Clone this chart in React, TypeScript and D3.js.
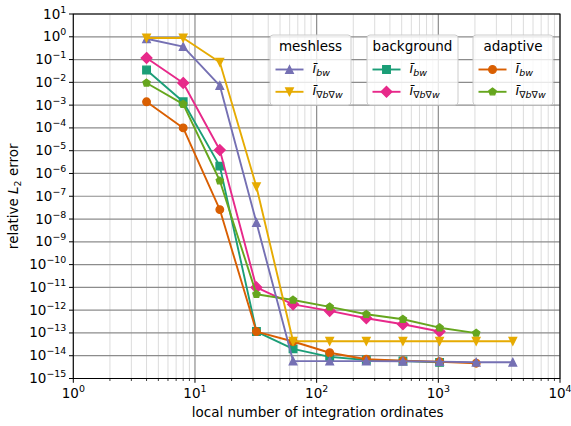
import React from 'react';
import * as d3 from 'd3';

// Number of integration ordinates per node
const ordinates = [4, 8, 16, 32, 64, 128, 256, 512, 1024, 2048, 4096];

// Relative L2 errors per method and integral
const meshlessBw = [0.82, 0.37, 7.2e-3, 7e-9, 5.9e-15, 5.8e-15, 5.8e-15, 5.7e-15, 5.5e-15, 5.2e-15, 5.2e-15];
const meshlessGrad = [0.88, 0.88, 0.076, 2.6e-7, 4.3e-14, 4.3e-14, 4.3e-14, 4.3e-14, 4.3e-14, 4.3e-14, 4.3e-14];
const backgroundBw = [0.035, 1.4e-3, 2.1e-6, 1.15e-13, 2e-14, 8.9e-15, 6.5e-15, 5.9e-15, 5.1e-15];
const backgroundGrad = [0.118, 9.4e-3, 1.07e-5, 1e-11, 1.8e-12, 9.3e-13, 4.4e-13, 2.4e-13, 1.15e-13];
const adaptiveBw = [1.4e-3, 1e-4, 2.6e-8, 1.15e-13, 4.2e-14, 1.35e-14, 7e-15, 6e-15, 5.4e-15, 4.7e-15];
const adaptiveGrad = [9.4e-3, 1.1e-3, 4.8e-7, 5e-12, 2.8e-12, 1.4e-12, 6.6e-13, 4e-13, 1.7e-13, 9.8e-14];

const xTickExps = [0, 1, 2, 3, 4];
const yTickExps = d3.range(-15, 2);

type Marker = 'up' | 'down' | 'square' | 'diamond' | 'circle' | 'pentagon';

interface Series {
  group: string;
  grad: boolean;
  values: number[];
  color: string;
  marker: Marker;
}

// drawing order: background, adaptive, meshless
const series: Series[] = [
  { group: 'background', grad: false, values: backgroundBw, color: '#1b9e77', marker: 'square' },
  { group: 'background', grad: true, values: backgroundGrad, color: '#e7298a', marker: 'diamond' },
  { group: 'adaptive', grad: false, values: adaptiveBw, color: '#d95f02', marker: 'circle' },
  { group: 'adaptive', grad: true, values: adaptiveGrad, color: '#66a61e', marker: 'pentagon' },
  { group: 'meshless', grad: false, values: meshlessBw, color: '#7570b3', marker: 'up' },
  { group: 'meshless', grad: true, values: meshlessGrad, color: '#e6ab02', marker: 'down' },
];

const groups = ['meshless', 'background', 'adaptive'];

const W = 571;
const H = 426;
const left = 73.3;
const right = 560;
const top = 14;
const bottom = 378.5;

const FONT = 'DejaVu Sans, sans-serif';
const FS = 13.5;
const MS = 7.6;

function markerPath(m: Marker, s: number): string {
  const h = s / 2;
  switch (m) {
    case 'up':
      return `M0,${-h}L${-h},${h}L${h},${h}Z`;
    case 'down':
      return `M0,${h}L${-h},${-h}L${h},${-h}Z`;
    case 'square':
      return `M${-h},${-h}H${h}V${h}H${-h}Z`;
    case 'diamond': {
      const d = s * Math.SQRT1_2;
      return `M0,${-d}L${d},0L0,${d}L${-d},0Z`;
    }
    case 'circle':
      return `M${h},0A${h},${h} 0 1,1 ${-h},0A${h},${h} 0 1,1 ${h},0Z`;
    case 'pentagon': {
      const pts = d3.range(5).map((i) => {
        const a = -Math.PI / 2 + (i * 2 * Math.PI) / 5;
        return `${h * Math.cos(a)},${h * Math.sin(a)}`;
      });
      return `M${pts.join('L')}Z`;
    }
  }
}

function Pow10({ exp, x, y, anchor }: { exp: number; x: number; y: number; anchor: 'end' | 'middle' }) {
  return (
    <text x={x} y={y} textAnchor={anchor} fontFamily={FONT} fontSize={FS} fill="#000">
      10
      <tspan fontSize={FS * 0.7} dy={-6}>
        {exp < 0 ? `\u2212${-exp}` : `${exp}`}
      </tspan>
    </text>
  );
}

function EntryLabel({ x, y, grad }: { x: number; y: number; grad: boolean }) {
  return (
    <text x={x} y={y} fontFamily={FONT} fontSize={FS} fill="#000">
      <tspan fontStyle="italic">{'\u012B'}</tspan>
      {grad ? (
        <tspan fontSize={FS * 0.7} dy={3}>
          {'\u2207'}
          <tspan fontStyle="italic">b</tspan>
          {'\u2207'}
          <tspan fontStyle="italic">w</tspan>
        </tspan>
      ) : (
        <tspan fontSize={FS * 0.7} dy={3} fontStyle="italic">
          bw
        </tspan>
      )}
    </text>
  );
}

export default function App() {
  const x = d3.scaleLog().domain([1, 1e4]).range([left, right]);
  const y = d3.scaleLog().domain([1e-15, 10]).range([bottom, top]);

  const minorX: number[] = [];
  for (let e = 0; e < 4; e++) {
    for (let k = 2; k <= 9; k++) minorX.push(k * Math.pow(10, e));
  }

  const line = d3
    .line<[number, number]>()
    .x((d) => x(d[0]))
    .y((d) => y(d[1]));

  const boxes = [
    { x0: 270, x1: 351 },
    { x0: 367, x1: 458 },
    { x0: 473, x1: 553 },
  ];

  return (
    <svg width={W} height={H} style={{ position: 'absolute', left: 0, top: 0, background: '#fff' }}>
      <rect width={W} height={H} fill="#fff" />
      {/* grid */}
      <g>
        {minorX.map((v) => (
          <line key={`mx${v}`} x1={x(v)} x2={x(v)} y1={top} y2={bottom} stroke="#dcdcdc" strokeWidth={1} />
        ))}
        {xTickExps.map((e) => (
          <line key={`gx${e}`} x1={x(Math.pow(10, e))} x2={x(Math.pow(10, e))} y1={top} y2={bottom} stroke="#8c8c8c" strokeWidth={1.2} />
        ))}
        {yTickExps.map((e) => (
          <line key={`gy${e}`} x1={left} x2={right} y1={y(Math.pow(10, e))} y2={y(Math.pow(10, e))} stroke="#8c8c8c" strokeWidth={1.2} />
        ))}
      </g>

      {/* data */}
      <g>
        {series.map((s, i) => {
          const pts = s.values.map((v, j) => [ordinates[j], v] as [number, number]);
          const mp = markerPath(s.marker, MS);
          return (
            <g key={i}>
              <path d={line(pts) ?? ''} fill="none" stroke={s.color} strokeWidth={1.9} strokeLinejoin="round" />
              {pts.map((p, j) => (
                <path
                  key={j}
                  d={mp}
                  transform={`translate(${x(p[0])},${y(p[1])})`}
                  fill={s.color}
                  stroke={s.color}
                  strokeWidth={1.3}
                />
              ))}
            </g>
          );
        })}
      </g>

      {/* axes frame */}
      <rect x={left} y={top} width={right - left} height={bottom - top} fill="none" stroke="#000" strokeWidth={1} />

      {/* x ticks */}
      {minorX.map((v) => (
        <line key={`tmx${v}`} x1={x(v)} x2={x(v)} y1={bottom} y2={bottom + 2.5} stroke="#000" strokeWidth={0.75} />
      ))}
      {xTickExps.map((e) => (
        <g key={`tx${e}`}>
          <line x1={x(Math.pow(10, e))} x2={x(Math.pow(10, e))} y1={bottom} y2={bottom + 4.3} stroke="#000" strokeWidth={1} />
          <Pow10 exp={e} x={x(Math.pow(10, e))} y={bottom + 19.5} anchor="middle" />
        </g>
      ))}
      {/* y ticks */}
      {yTickExps.map((e) => (
        <g key={`ty${e}`}>
          <line x1={left - 4.3} x2={left} y1={y(Math.pow(10, e))} y2={y(Math.pow(10, e))} stroke="#000" strokeWidth={1} />
          <Pow10 exp={e} x={left - 7} y={y(Math.pow(10, e)) + 4.5} anchor="end" />
        </g>
      ))}

      {/* axis labels */}
      <text x={(left + right) / 2 + 1} y={417} textAnchor="middle" fontFamily={FONT} fontSize={FS}>
        local number of integration ordinates
      </text>
      <text
        transform={`translate(18,${(top + bottom) / 2}) rotate(-90)`}
        textAnchor="middle"
        fontFamily={FONT}
        fontSize={FS}
      >
        relative <tspan fontStyle="italic">L</tspan>
        <tspan fontSize={FS * 0.7} dy={3}>2</tspan>
        <tspan dy={-3}> error</tspan>
      </text>

      {/* legends, one per method */}
      {groups.map((g, gi) => {
        const b = boxes[gi];
        const items = series.filter((s) => s.group === g).sort((a, c) => Number(a.grad) - Number(c.grad));
        return (
          <g key={g}>
            <rect x={b.x0} y={35} width={b.x1 - b.x0} height={70} rx={3} fill="#fff" fillOpacity={0.8} stroke="#cccccc" strokeWidth={1} />
            <text x={(b.x0 + b.x1) / 2} y={51} textAnchor="middle" fontFamily={FONT} fontSize={FS}>
              {g}
            </text>
            {items.map((s, k) => {
              const cy = 69.5 + k * 22.3;
              const hx0 = b.x0 + 5.5;
              const hx1 = hx0 + 28;
              return (
                <g key={k}>
                  <line x1={hx0} x2={hx1} y1={cy} y2={cy} stroke={s.color} strokeWidth={1.9} />
                  <path
                    d={markerPath(s.marker, MS)}
                    transform={`translate(${(hx0 + hx1) / 2},${cy})`}
                    fill={s.color}
                    stroke={s.color}
                    strokeWidth={1.3}
                  />
                  <EntryLabel x={hx1 + 9} y={cy + 3} grad={s.grad} />
                </g>
              );
            })}
          </g>
        );
      })}
    </svg>
  );
}
